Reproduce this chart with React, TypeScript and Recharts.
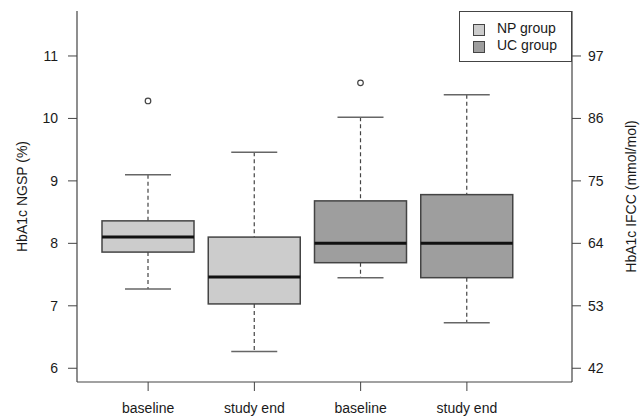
import { Bar, ComposedChart, Legend, XAxis, YAxis } from "recharts";

// groups and time points, in plot order
const groups = ["np", "np", "uc", "uc"];
const timepoints = ["baseline", "study end", "baseline", "study end"];

// box statistics, HbA1c NGSP (%)
const whiskerLow = [7.27, 6.27, 7.45, 6.73];
const quartile1 = [7.86, 7.03, 7.69, 7.45];
const medians = [8.1, 7.46, 8.0, 8.0];
const quartile3 = [8.36, 8.1, 8.68, 8.78];
const whiskerHigh = [9.1, 9.46, 10.02, 10.38];
const outliers: (number | null)[] = [10.28, null, 10.57, null];

const ngspTicks = [6, 7, 8, 9, 10, 11];
const ifccTicks = [42, 53, 64, 75, 86, 97];

const groupFill: Record<string, string> = {
  np: "#cccccc",
  uc: "#9e9e9e",
};
const groupLabel: Record<string, string> = {
  np: "NP group",
  uc: "UC group",
};

const ngspDomain = [5.78, 11.72];
// IFCC = 42 + (NGSP - 6) * 11 on this figure
const ifccDomain = ngspDomain.map((v) => 42 + (v - 6) * 11);

const rows = timepoints.map((label, i) => {
  const lo = Math.min(whiskerLow[i], outliers[i] ?? whiskerLow[i]);
  const hi = Math.max(whiskerHigh[i], outliers[i] ?? whiskerHigh[i]);
  return {
    key: `box${i}`,
    label,
    group: groups[i],
    low: whiskerLow[i],
    q1: quartile1[i],
    median: medians[i],
    q3: quartile3[i],
    high: whiskerHigh[i],
    outlier: outliers[i],
    range: [lo, hi],
  };
});

type Row = (typeof rows)[number];

const LINE = "#444444";
const TEXT = "#1a1a1a";

function BoxShape(props: {
  x?: number;
  y?: number;
  width?: number;
  height?: number;
  payload?: Row;
}) {
  const { x, y, width, height, payload } = props;
  if (
    typeof x !== "number" ||
    typeof y !== "number" ||
    typeof width !== "number" ||
    typeof height !== "number" ||
    !payload
  ) {
    return null;
  }
  const [lo, hi] = payload.range;
  const top = Math.min(y, y + height);
  const bottom = Math.max(y, y + height);
  const toY = (v: number) => bottom - ((v - lo) / (hi - lo)) * (bottom - top);
  const cx = x + width / 2;
  const cap = width / 4;
  const fill = groupFill[payload.group];

  return (
    <g>
      <line
        x1={cx}
        x2={cx}
        y1={toY(payload.high)}
        y2={toY(payload.q3)}
        stroke={LINE}
        strokeWidth={1.2}
        strokeDasharray="4 3"
      />
      <line
        x1={cx}
        x2={cx}
        y1={toY(payload.q1)}
        y2={toY(payload.low)}
        stroke={LINE}
        strokeWidth={1.2}
        strokeDasharray="4 3"
      />
      <line
        x1={cx - cap}
        x2={cx + cap}
        y1={toY(payload.high)}
        y2={toY(payload.high)}
        stroke="#666"
        strokeWidth={1.5}
      />
      <line
        x1={cx - cap}
        x2={cx + cap}
        y1={toY(payload.low)}
        y2={toY(payload.low)}
        stroke="#666"
        strokeWidth={1.5}
      />
      <rect
        x={x}
        y={toY(payload.q3)}
        width={width}
        height={toY(payload.q1) - toY(payload.q3)}
        fill={fill}
        stroke={LINE}
        strokeWidth={1.5}
      />
      <line
        x1={x}
        x2={x + width}
        y1={toY(payload.median)}
        y2={toY(payload.median)}
        stroke="#111"
        strokeWidth={3}
      />
      {payload.outlier != null && (
        <circle
          cx={cx}
          cy={toY(payload.outlier)}
          r={2.8}
          fill="#fff"
          stroke={LINE}
          strokeWidth={1.2}
        />
      )}
    </g>
  );
}

function GroupLegend() {
  return (
    <div
      style={{
        position: "relative",
        width: 113,
        height: 51,
        boxSizing: "border-box",
        border: `1px solid ${LINE}`,
        background: "#fff",
        fontSize: 14,
        color: TEXT,
      }}
    >
      {["np", "uc"].map((g, i) => (
        <div key={g}>
          <span
            style={{
              position: "absolute",
              left: 13,
              top: 12 + i * 16.5,
              width: 10,
              height: 10,
              background: groupFill[g],
              border: `1px solid ${LINE}`,
            }}
          />
          <span
            style={{
              position: "absolute",
              left: 37,
              top: 8 + i * 16.5,
              lineHeight: "16px",
              whiteSpace: "nowrap",
            }}
          >
            {groupLabel[g]}
          </span>
        </div>
      ))}
    </div>
  );
}

const tickStyle = { fill: TEXT, fontSize: 14 };

export default function App() {
  return (
    <div
      style={{
        position: "fixed",
        left: 0,
        top: 0,
        width: 641,
        height: 417,
        background: "#fff",
        fontFamily: "'Liberation Sans', Arial, sans-serif",
      }}
    >
      <ComposedChart
        width={641}
        height={417}
        data={rows}
        margin={{ top: 11, right: 0, left: 0, bottom: 0 }}
      >
        <XAxis
          dataKey="key"
          type="category"
          interval={0}
          height={35}
          padding={{ left: 18, right: 52 }}
          tickFormatter={(_v, i) => timepoints[i]}
          tick={tickStyle}
          tickSize={9}
          tickMargin={12}
          axisLine={{ stroke: LINE, strokeWidth: 1.2 }}
          tickLine={{ stroke: LINE }}
        />
        <XAxis
          xAxisId="top"
          dataKey="key"
          orientation="top"
          height={0}
          tick={false}
          tickLine={false}
          axisLine={{ stroke: LINE, strokeWidth: 1.2 }}
        />
        <YAxis
          yAxisId="ngsp"
          type="number"
          width={77}
          domain={ngspDomain}
          ticks={ngspTicks}
          allowDataOverflow
          tick={tickStyle}
          tickSize={9}
          tickMargin={10}
          axisLine={{ stroke: LINE, strokeWidth: 1.2 }}
          tickLine={{ stroke: LINE }}
          label={{
            value: "HbA1c NGSP (%)",
            angle: -90,
            position: "insideLeft",
            offset: 22,
            style: { textAnchor: "middle", fill: TEXT, fontSize: 14 },
          }}
        />
        <YAxis
          yAxisId="ifcc"
          orientation="right"
          type="number"
          width={69}
          domain={ifccDomain}
          ticks={ifccTicks}
          allowDataOverflow
          tick={tickStyle}
          tickSize={9}
          tickMargin={7}
          axisLine={{ stroke: LINE, strokeWidth: 1.2 }}
          tickLine={{ stroke: LINE }}
          label={{
            value: "HbA1c IFCC (mmol/mol)",
            angle: -90,
            position: "insideRight",
            offset: 10,
            style: { textAnchor: "middle", fill: TEXT, fontSize: 14 },
          }}
        />
        <Bar
          yAxisId="ngsp"
          dataKey="range"
          barSize={92}
          shape={BoxShape}
          isAnimationActive={false}
        />
        <Legend
          layout="vertical"
          align="center"
          verticalAlign="middle"
          wrapperStyle={{ top: 11, left: 459, width: 113, height: 51 }}
          content={() => <GroupLegend />}
        />
      </ComposedChart>
    </div>
  );
}
